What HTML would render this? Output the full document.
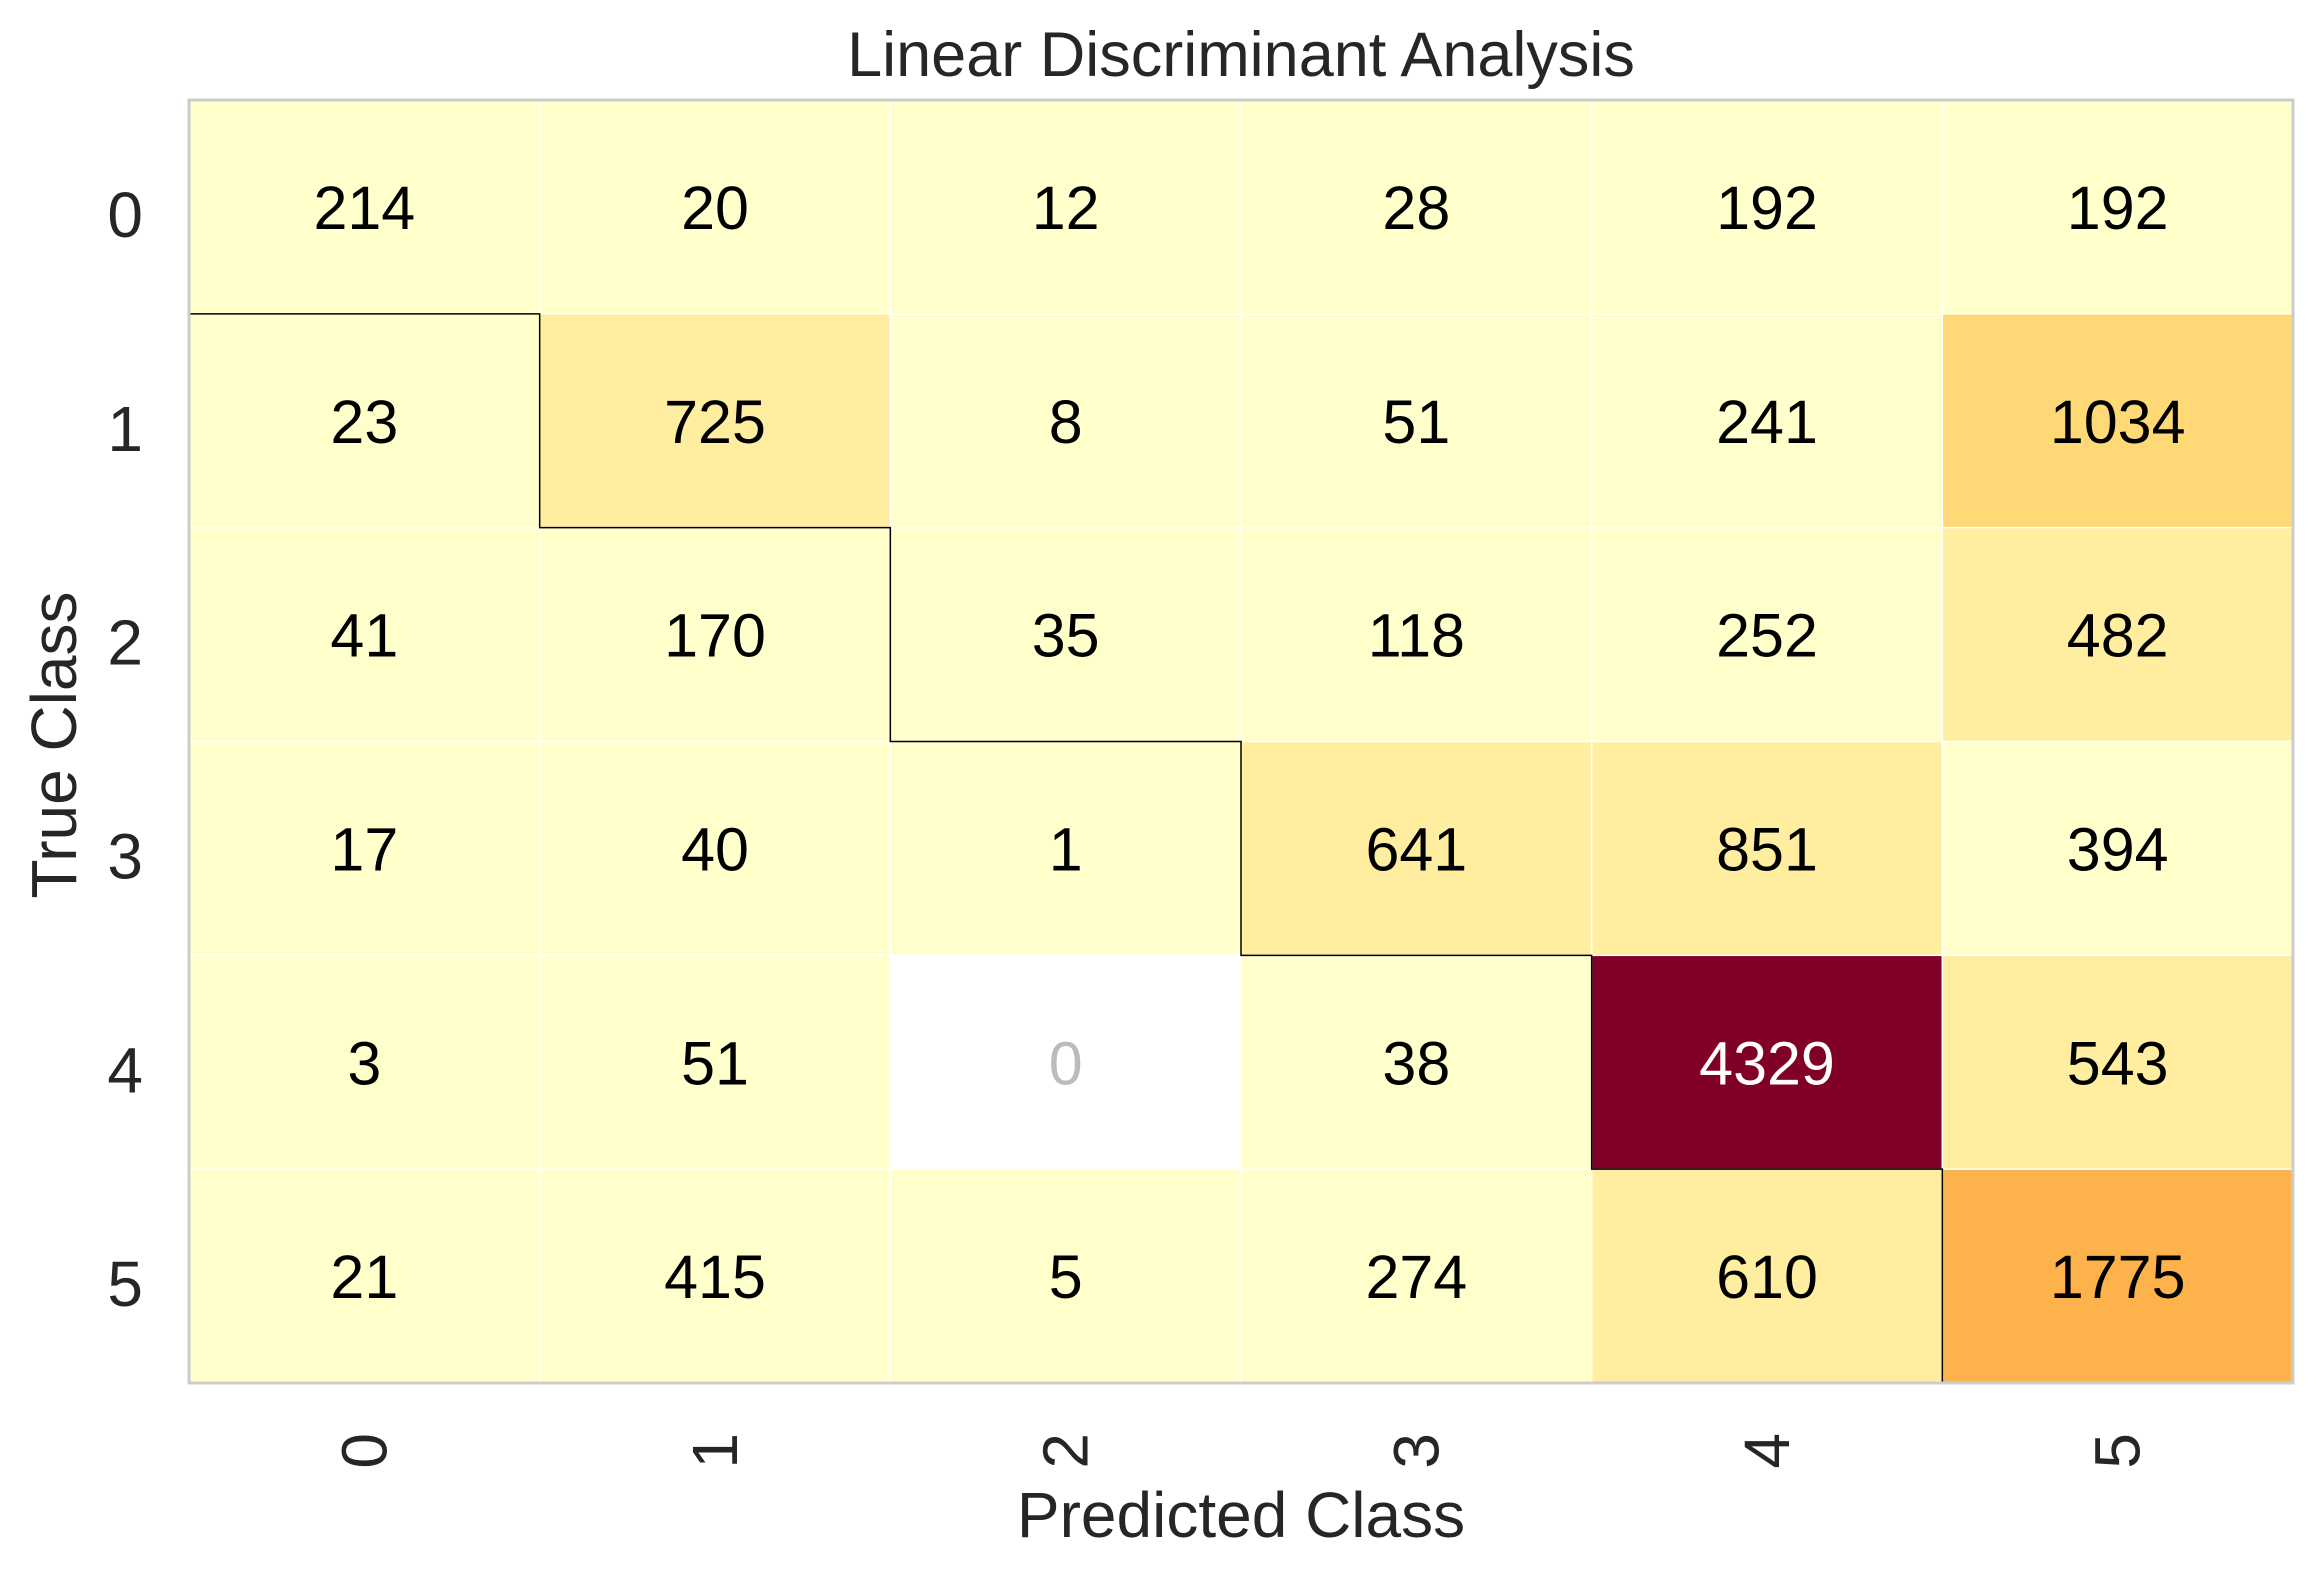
<!DOCTYPE html>
<html><head><meta charset="utf-8"><style>
html,body{margin:0;padding:0;background:#fff;}
svg{display:block;font-family:"Liberation Sans",Arial,sans-serif;}
</style></head><body>
<svg id="chart" width="2323" height="1574" viewBox="0 0 2323 1574">
<text x="1241" y="76" font-size="63" fill="#262626" text-anchor="middle">Linear Discriminant Analysis</text>
<g id="cells"></g>
<g id="stair"></g>
<rect x="189" y="100" width="2104" height="1283" fill="none" stroke="#cccccc" stroke-width="3"/>
<g id="ticks"></g>
<text x="1241" y="1537" font-size="64" fill="#262626" text-anchor="middle">Predicted Class</text>
<text x="76" y="745" font-size="64" fill="#262626" text-anchor="middle" transform="rotate(-90 76 745)">True Class</text>
</svg>
<script>
const classes = ["0","1","2","3","4","5"];
const row0 = [214,20,12,28,192,192];
const row1 = [23,725,8,51,241,1034];
const row2 = [41,170,35,118,252,482];
const row3 = [17,40,1,641,851,394];
const row4 = [3,51,0,38,4329,543];
const row5 = [21,415,5,274,610,1775];
const matrix = [row0,row1,row2,row3,row4,row5];

const L=189,T=100,W=2104,H=1283;
const n=classes.length, cw=W/n, ch=H/n;
const xPos=c=>L+c*cw, yPos=r=>T+r*ch;
const pal=["#ffffcc","#ffeda0","#fed976","#feb24c","#fd8d3c","#fc4e2a","#e31a1c","#bd0026","#800026"];
function color(v,max){
  let i=Math.min(pal.length-1,Math.floor(v/max*pal.length));
  return pal[i];
}
const NS="http://www.w3.org/2000/svg";
const max=Math.max(...matrix.flat());
const cells=document.getElementById("cells");
matrix.forEach((row,r)=>row.forEach((v,c)=>{
  const rect=document.createElementNS(NS,"rect");
  rect.setAttribute("x",xPos(c));rect.setAttribute("y",yPos(r));
  rect.setAttribute("width",cw);rect.setAttribute("height",ch);
  rect.setAttribute("fill",v===0?"#ffffff":color(v,max));
  rect.setAttribute("stroke","#ffffff");rect.setAttribute("stroke-width","1.5");
  
  
  cells.appendChild(rect);
  const t=document.createElementNS(NS,"text");
  t.setAttribute("x",xPos(c)+cw/2);t.setAttribute("y",yPos(r)+ch/2+22);
  t.setAttribute("text-anchor","middle");t.setAttribute("font-size","61");
  t.setAttribute("fill",v===0?"#bbbbbb":(v/max>0.6?"#ffffff":"#000000"));
  t.textContent=v;
  
  
  cells.appendChild(t);
}));
let d="M"+L+" "+yPos(1);
for(let i=0;i<n-1;i++){d+=" L"+xPos(i+1)+" "+yPos(i+1)+" L"+xPos(i+1)+" "+yPos(i+2);}
const p=document.createElementNS(NS,"path");
p.setAttribute("d",d);p.setAttribute("fill","none");p.setAttribute("stroke","#000");p.setAttribute("stroke-width","1.5");


document.getElementById("stair").appendChild(p);
const ticks=document.getElementById("ticks");
classes.forEach((c,i)=>{
  const ty=document.createElementNS(NS,"text");
  ty.setAttribute("x",143);ty.setAttribute("y",yPos(i)+ch/2+30);
  ty.setAttribute("text-anchor","end");ty.setAttribute("font-size","64");ty.setAttribute("fill","#262626");
  ty.textContent=c;
  
  
  ticks.appendChild(ty);
  const tx=document.createElementNS(NS,"text");
  const x=xPos(i)+cw/2+22,y=1433;
  tx.setAttribute("x",x);tx.setAttribute("y",y);
  tx.setAttribute("text-anchor","end");tx.setAttribute("font-size","64");tx.setAttribute("fill","#262626");
  tx.setAttribute("transform","rotate(-90 "+x+" "+y+")");
  tx.textContent=c;
  
  
  ticks.appendChild(tx);
});
</script>
</body></html>
